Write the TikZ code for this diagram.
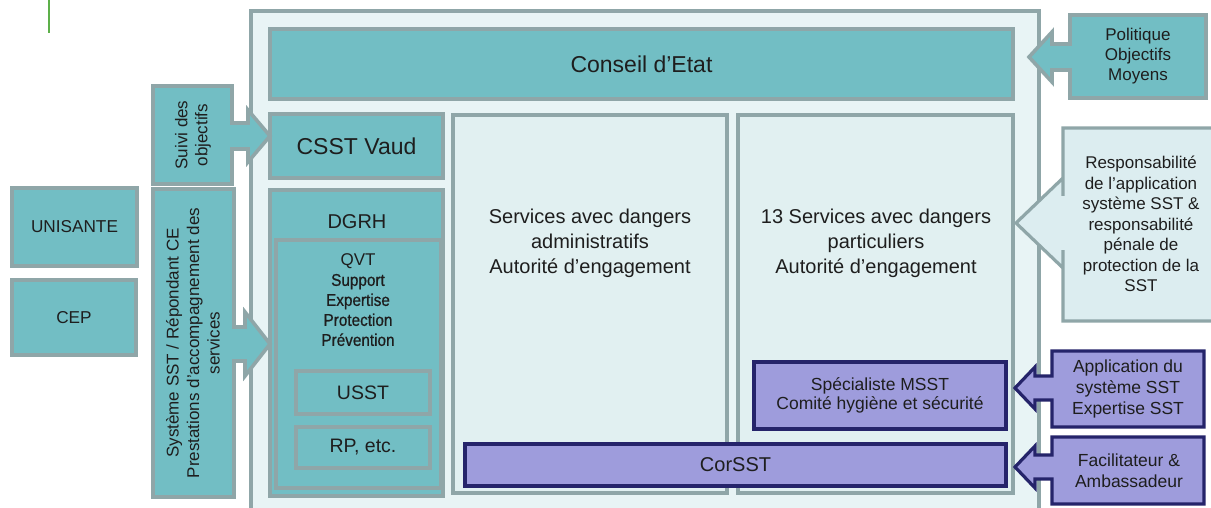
\documentclass[tikz,border=0pt]{standalone}
\usepackage{fontspec}
\setmainfont{Liberation Sans}
\newfontfamily\qvtfont[FakeBold=0.8,FakeStretch=0.9]{Liberation Sans}
\newcommand\fsz[2]{\fontsize{#1}{#2}\selectfont}
\definecolor{tealfill}{HTML}{72BEC4}
\definecolor{greyline}{HTML}{8FA6A8}
\definecolor{outerfill}{HTML}{E8F4F5}
\definecolor{panelfill}{HTML}{E1F0F1}
\definecolor{respfill}{HTML}{DCEDF0}
\definecolor{purplefill}{HTML}{9E9CDC}
\definecolor{navyline}{HTML}{25246A}
\definecolor{greenline}{HTML}{5DB04A}
\definecolor{txtcol}{HTML}{1E1E1E}
\begin{document}
\begin{tikzpicture}[x=1pt,y=-1pt,
  every node/.style={text=txtcol, inner sep=0pt, outer sep=0pt},
  boxbase/.style={anchor=north west, align=center},
  tealbox/.style={boxbase, fill=tealfill, draw=greyline, line width=4pt},
  lightbox/.style={boxbase, fill=panelfill, draw=greyline, line width=3.2pt},
  purplebox/.style={boxbase, fill=purplefill, draw=navyline, line width=3.2pt},
  tealcall/.style={fill=tealfill, draw=greyline, line width=3.6pt},
  lightcall/.style={fill=respfill, draw=greyline, line width=3.2pt},
  purplecall/.style={fill=purplefill, draw=navyline, line width=3.2pt},
  txt/.style={align=center},
]
\clip (0,0) rectangle (1211,508);
\useasboundingbox (0,0) rectangle (1211,508);
\fill[white] (0,0) rectangle (1211,508);

% green mark
\coordinate (g1) at (49,0);
\coordinate (g2) at (49,33);
\draw[greenline, line width=1.8pt] (g1) -- (g2);

% outer frame
\node[boxbase, fill=outerfill, draw=greyline, line width=3.6pt,
      minimum width=788pt, minimum height=530pt] (outer) at (251,11) {};

% Conseil d'Etat
\node[tealbox, minimum width=743pt, minimum height=70pt, font=\fsz{23}{27}] (conseil) at (270,29) {Conseil d’Etat};

% CSST Vaud
\node[tealbox, minimum width=173pt, minimum height=64pt, font=\fsz{23}{27}] (csst) at (270,114) {CSST Vaud};

% DGRH
\node[tealbox, minimum width=173pt, minimum height=306pt] (dgrh) at (270,190) {};
\node[txt, font=\fsz{20}{24}] (dgrhlbl) at (357,222) {DGRH};
\node[tealbox, minimum width=165pt, minimum height=248pt] (qvtbox) at (276,240) {};
\node[txt, font=\fsz{17}{20}] (qvt) at (358,300) {QVT\\{\qvtfont Support}\\{\qvtfont Expertise}\\{\qvtfont Protection}\\{\qvtfont Prévention}};
\node[tealbox, minimum width=134pt, minimum height=43pt, font=\fsz{19.5}{23}] (usst) at (296,371) {USST};
\node[tealbox, minimum width=134pt, minimum height=41pt, font=\fsz{19.5}{23}] (rp) at (296,427) {RP, etc.};

% Services panels
\node[lightbox, minimum width=274pt, minimum height=378pt] (admin) at (453,115) {};
\node[txt, font=\fsz{20}{25}] (admintxt) at (590,243) {Services avec dangers\\administratifs\\Autorité d’engagement};
\node[lightbox, minimum width=275pt, minimum height=378pt] (partic) at (738,115) {};
\node[txt, font=\fsz{20}{25}] (partictxt) at (876,243) {13 Services avec dangers\\particuliers\\Autorité d’engagement};

% purple boxes
\node[purplebox, minimum width=252pt, minimum height=67pt, font=\fsz{17.5}{19.5}] (msst) at (754,362) {Spécialiste MSST\\Comité hygiène et sécurité};
\node[purplebox, minimum width=541pt, minimum height=42pt, font=\fsz{20}{24}] (corsst) at (465,444) {CorSST};

% left boxes
\node[tealbox, minimum width=125pt, minimum height=78pt, font=\fsz{17.2}{20}] (unisante) at (12,188) {UNISANTE};
\node[tealbox, minimum width=124pt, minimum height=75pt, font=\fsz{17.2}{20}] (cep) at (12,280) {CEP};

% callouts pointing right
\draw[tealcall] (153,86) -- (232,86) -- (232,123) -- (248,123) -- (248,110) -- (csst.west |- 0,136)
  -- (248,162) -- (248,149) -- (232,149) -- (232,184) -- (153,184) -- cycle;
\node[txt, rotate=90, font=\fsz{17}{20}] (suivi) at (193,135) {Suivi des\\objectifs};

\draw[tealcall] (153,189) -- (234,189) -- (234,327) -- (245,327) -- (245,312) -- (dgrh.west |- 0,344)
  -- (245,376) -- (245,361) -- (234,361) -- (234,497) -- (153,497) -- cycle;
\node[txt, rotate=90, font=\fsz{17}{20.5}] (systeme) at (193,343) {Système SST / Répondant CE\\Prestations d’accompagnement des\\services};

% callouts pointing left
\draw[tealcall] (1070,15) -- (1206,15) -- (1206,98) -- (1070,98) -- (1070,70) -- (1052,70) -- (1052,82)
  -- (1029,57) -- (1052,32) -- (1052,44) -- (1070,44) -- cycle;
\node[txt, font=\fsz{17}{20}] (politique) at (1138,56) {Politique\\Objectifs\\Moyens};

\draw[lightcall] (1063,128) -- (1222,128) -- (1222,321) -- (1063,321) -- (1063,250) -- (1063,268)
  -- (1016,223) -- (1063,178) -- (1063,196) -- cycle;
\node[txt, font=\fsz{17}{20.5}] (resp) at (1141,224) {Responsabilité\\de l’application\\système SST \&\\responsabilité\\pénale de\\protection de la\\SST};

\draw[purplecall] (1052,351) -- (1204,351) -- (1204,427) -- (1052,427) -- (1052,400) -- (1035,400) -- (1035,409)
  -- (1015,388) -- (1035,367) -- (1035,376) -- (1052,376) -- cycle;
\node[txt, font=\fsz{17.5}{21}] (appli) at (1128,389) {Application du\\système SST\\Expertise SST};

\draw[purplecall] (1052,437) -- (1204,437) -- (1204,504) -- (1052,504) -- (1052,479) -- (1035,479) -- (1035,488)
  -- (1015,467) -- (1035,446) -- (1035,455) -- (1052,455) -- cycle;
\node[txt, font=\fsz{17.5}{21}] (facil) at (1129,471) {Facilitateur \&\\Ambassadeur};
\end{tikzpicture}
\end{document}
